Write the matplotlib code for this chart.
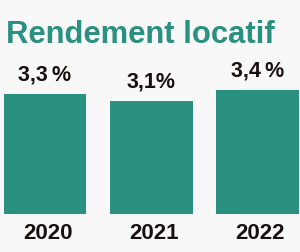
import matplotlib
matplotlib.use("Agg")
import matplotlib.pyplot as plt

years = ["2020", "2021", "2022"]
values = [3.3, 3.1, 3.4]
labels = ["3,3\u2009%", "3,1%", "3,4\u2009%"]

BG = "#f8f8f8"
TEAL = "#2a9080"

plt.rcParams['font.family'] = ['Liberation Sans', 'DejaVu Sans']

fig = plt.figure(figsize=(3.0, 2.52), dpi=100, facecolor=BG)
ax = fig.add_axes([0, 38/252, 1, 145.6/252], facecolor=BG)

x = list(range(len(years)))
ax.bar(x, values, width=0.78, color=TEAL)
ax.set_xlim(-0.4235, 2.4)
ax.set_ylim(0, 4)

for xi, v, lab in zip(x, values, labels):
    ax.annotate(lab, (xi, v), xytext=(0, 6), textcoords="offset points",
                ha="center", va="bottom", fontsize=15.5, fontweight="bold",
                color="#1a0f0f")

for xi, yr in zip(x, years):
    ax.annotate(yr, (xi, 0), xytext=(2, -6.5), textcoords="offset points",
                ha="center", va="top", fontsize=16, fontweight="bold",
                color="#1a0f0f")

for s in ax.spines.values():
    s.set_visible(False)
ax.set_xticks([])
ax.set_yticks([])

fig.text(6/300, 1 - 35/252, "Rendement locatif", fontsize=22.3, fontweight="bold",
         color=TEAL, ha="left", va="center")

fig.savefig("out.png", dpi=100, facecolor=BG)
